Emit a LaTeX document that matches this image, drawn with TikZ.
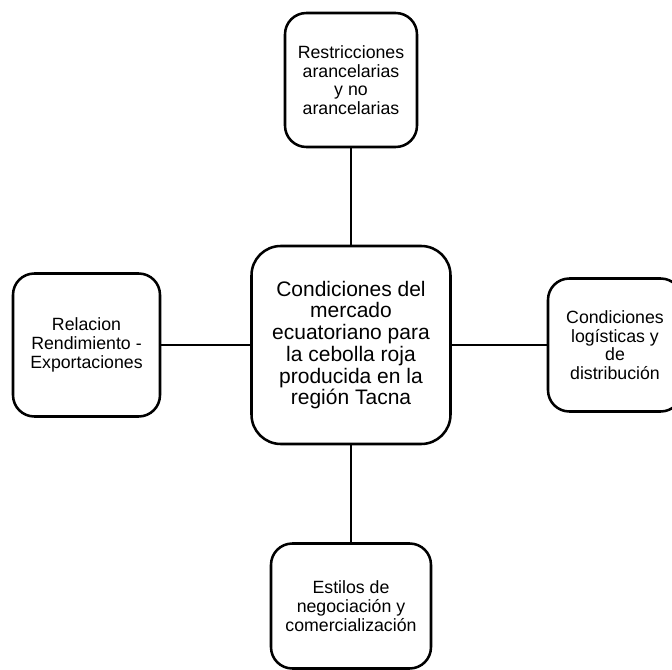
\documentclass[tikz,border=0pt]{standalone}
\usepackage{fontspec}
\setmainfont{Liberation Sans}
\usetikzlibrary{positioning}

\begin{document}
\begin{tikzpicture}[x=0.75pt, y=-0.75pt,
  tema/.style={draw=black, line width=1.9pt, fill=white, rectangle,
    rounded corners=16pt, align=center, inner sep=2pt,
    font=\fontsize{13.3}{14}\selectfont},
  nucleo/.style={tema, rounded corners=22pt,
    font=\fontsize{15.75}{16.3}\selectfont},
  enlace/.style={line width=1.9pt},
]
\path[use as bounding box, clip] (0,0) rectangle (672,670);

%==================== CENTRO ====================
\node[nucleo, minimum width=149.25pt, minimum height=148.5pt] (CEN) at (351,345)
  {Condiciones del\\mercado\\ecuatoriano para\\la cebolla roja\\producida en la\\región Tacna};

%==================== ARRIBA ====================
\node[tema, minimum width=99pt, minimum height=100.5pt] (ARR) at (351,80)
  {Restricciones\\arancelarias\\y no\\arancelarias};

%==================== IZQUIERDA ====================
\node[tema, minimum width=110.25pt, minimum height=107.25pt] (IZQ) at (86.5,345)
  {Relacion\\Rendimiento -\\Exportaciones};

%==================== DERECHA ====================
\node[tema, minimum width=100.5pt, minimum height=99.75pt] (DER) at (615,345)
  {Condiciones\\logísticas y\\de\\distribución};

%==================== ABAJO ====================
\node[tema, minimum width=120pt, minimum height=93.75pt] (ABA) at (351,606)
  {Estilos de\\negociación y\\comercialización};

%==================== ENLACES ====================
\draw[enlace] (ARR) -- (CEN);
\draw[enlace] (CEN) -- (ABA);
\draw[enlace] (IZQ) -- (CEN);
\draw[enlace] (CEN) -- (DER);

\end{tikzpicture}
\end{document}
